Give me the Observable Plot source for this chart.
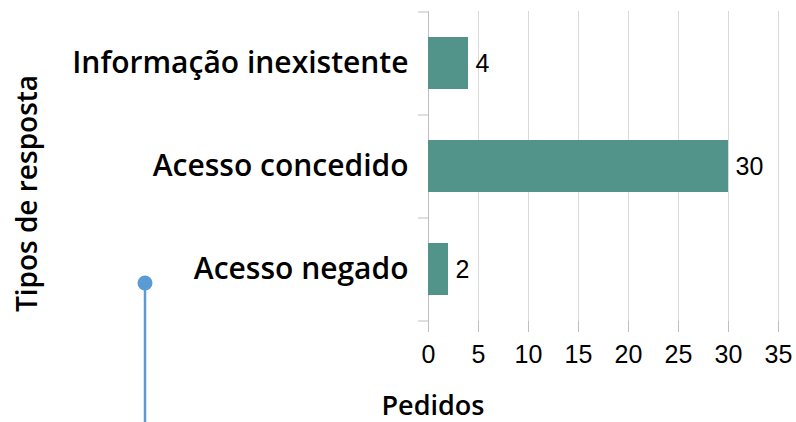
<!DOCTYPE html>
<html>
<head>
<meta charset="utf-8">
<script src="https://cdn.jsdelivr.net/npm/d3@7"></script>
<script src="https://cdn.jsdelivr.net/npm/@observablehq/plot@0.6"></script>
<style>
  html, body { margin: 0; padding: 0; background: #fff; }
  #wrap { position: relative; width: 796px; height: 422px; }
  #deco { position: absolute; left: 0; top: 0; pointer-events: none; }
</style>
</head>
<body>
<div id="wrap"></div>
<script>
const categories = ["Informação inexistente", "Acesso concedido", "Acesso negado"];
const values = [4, 30, 2];
const xTicks = [0, 5, 10, 15, 20, 25, 30, 35];
const xLabel = "Pedidos";
const yLabel = "Tipos de resposta";

const data = categories.map((c, i) => ({category: c, value: values[i]}));

const barColor = "#52948a";
const gridColor = "#d9d9d9";
const axisColor = "#bfbfbf";
const labelFont = "'Open Sans', 'Noto Sans', sans-serif";
const numFont = "'Liberation Sans', Arial, sans-serif";

const chart = Plot.plot({
  width: 796,
  height: 422,
  marginLeft: 428,
  marginRight: 18,
  marginTop: 11,
  marginBottom: 101,
  style: {background: "white", overflow: "visible"},
  x: {domain: [0, 35], ticks: xTicks},
  y: {domain: categories, paddingInner: 0.5, paddingOuter: 0.25},
  marks: [
    Plot.gridX(xTicks, {stroke: gridColor, strokeOpacity: 1, strokeWidth: 1}),
    Plot.ruleX([0], {stroke: axisColor, strokeWidth: 1}),
    Plot.ruleY([0], {frameAnchor: "bottom", stroke: axisColor}),
    // category boundary ticks on the left axis
    Plot.ruleY(categories, {y: d => d, x1: -1, x2: 0, dy: -51.5, stroke: axisColor, clip: false}),
    Plot.ruleY(categories.slice(-1), {y: d => d, x1: -1, x2: 0, dy: 51.5, stroke: axisColor, clip: false}),
    Plot.barX(data, {y: "category", x: "value", fill: barColor}),
    Plot.text(data, {y: "category", x: "value", text: d => String(d.value), textAnchor: "start", dx: 7,
      fontSize: 25, fontFamily: numFont, fill: "#000"}),
    Plot.axisX(xTicks, {tickSize: 11, tickPadding: 13, stroke: axisColor, fontSize: 25,
      fontFamily: numFont, fill: "#000", label: null}),
    Plot.axisY(categories, {tickSize: 0, tickPadding: 20, fontSize: 30, fontWeight: 600,
      fontFamily: labelFont, fill: "#000", label: null}),
    Plot.text([xLabel], {frameAnchor: "bottom-left", textAnchor: "start", dx: -47, dy: 93, text: d => d,
      fontSize: 27, fontWeight: 600, fontFamily: labelFont, fill: "#000"}),
    Plot.text([yLabel], {frameAnchor: "left", textAnchor: "middle", dx: -400, dy: 27, rotate: -90, text: d => d,
      fontSize: 28, fontWeight: 600, fontFamily: labelFont, fill: "#000"})
  ]
});
document.getElementById("wrap").appendChild(chart);

// decorative connector (callout leftover in the reference)
const ns = "http://www.w3.org/2000/svg";
const deco = document.createElementNS(ns, "svg");
deco.setAttribute("id", "deco");
deco.setAttribute("width", "796");
deco.setAttribute("height", "422");
deco.innerHTML = '<line x1="145" y1="283" x2="145" y2="422" stroke="#5b9bd5" stroke-width="2.5"/>' +
  '<circle cx="145" cy="283" r="7.5" fill="#5b9bd5"/>';
document.getElementById("wrap").appendChild(deco);
</script>
</body>
</html>
